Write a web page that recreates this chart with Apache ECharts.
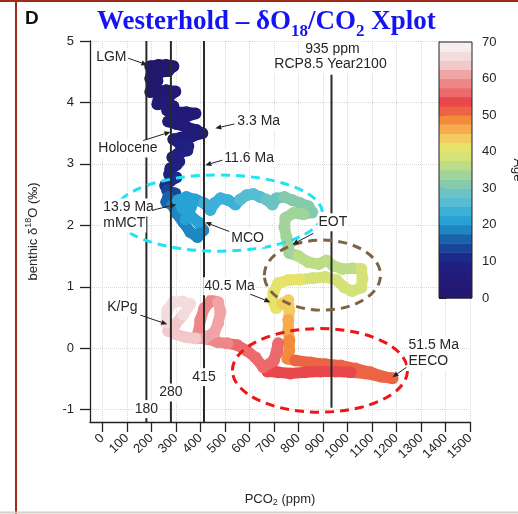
<!DOCTYPE html>
<html>
<head>
<meta charset="utf-8">
<script src="https://cdn.jsdelivr.net/npm/echarts@6/dist/echarts.min.js"></script>
<style>
html, body { margin: 0; padding: 0; background: #fff; }
#chart { width: 518px; height: 514px; }
</style>
</head>
<body>
<div id="chart"></div>
<script>
// Cenozoic trajectory: atmospheric CO2 (ppm), benthic d18O (permil), age (Ma)
const co2 = [
  196, 229, 261, 290, 269, 237, 204, 196, 225, 204, 196, 229, 261, 298, 269, 229, 225, 261, 290, 265,
  302, 343, 380, 339, 298, 269, 302, 343, 384, 408, 367, 322, 290, 314, 351, 347, 310, 286, 314, 302,
  278, 273, 302, 278, 257, 265, 298, 269, 261, 286, 302, 331, 359, 388, 412, 392, 359, 340, 362, 327,
  310, 343, 380, 416, 441, 457, 482, 514, 543, 563, 588, 616, 645, 669, 694, 710, 743, 776, 808, 841,
  857, 820, 780, 747, 743, 751, 759, 763, 800, 841, 882, 914, 943, 980, 1020, 1057, 1061, 1057, 1020, 988,
  955, 910, 857, 808, 759, 718, 698, 694, 710, 735, 759, 763, 759, 759, 763, 763, 755, 788, 849, 910,
  972, 1033, 1094, 1143, 1184, 1135, 1074, 1012, 951, 890, 829, 767, 718, 674, 694, 714, 718, 700, 657, 625,
  590, 551, 510, 469, 430, 392, 400, 416, 445, 473, 482, 473, 457, 416, 380, 339, 298, 269, 298, 331,
  359, 327, 290, 265, 261
];
const d18o = [
  4.59, 4.61, 4.61, 4.59, 4.51, 4.49, 4.51, 4.39, 4.35, 4.26, 4.17, 4.18, 4.20, 4.18, 4.08, 4.04, 3.97, 3.97, 3.94, 3.87,
  3.84, 3.84, 3.82, 3.76, 3.73, 3.69, 3.65, 3.60, 3.55, 3.50, 3.45, 3.43, 3.40, 3.34, 3.29, 3.22, 3.17, 3.11, 3.04, 2.98,
  2.93, 2.83, 2.78, 2.72, 2.65, 2.57, 2.52, 2.46, 2.38, 2.33, 2.20, 2.05, 1.89, 1.81, 1.92, 2.05, 2.16, 2.10, 2.30, 2.28,
  2.41, 2.46, 2.42, 2.36, 2.25, 2.36, 2.44, 2.41, 2.34, 2.42, 2.49, 2.51, 2.46, 2.42, 2.34, 2.44, 2.46, 2.41, 2.36, 2.31,
  2.21, 2.18, 2.20, 2.12, 1.97, 1.81, 1.66, 1.55, 1.50, 1.40, 1.37, 1.43, 1.34, 1.29, 1.30, 1.29, 1.14, 0.99, 0.93, 0.99,
  1.11, 1.16, 1.14, 1.12, 1.11, 1.06, 0.91, 0.78, 0.65, 0.73, 0.78, 0.62, 0.46, 0.29, 0.13, -0.03, -0.17, -0.20, -0.23, -0.26,
  -0.28, -0.33, -0.39, -0.46, -0.49, -0.46, -0.41, -0.39, -0.38, -0.38, -0.39, -0.41, -0.39, -0.38, -0.23, -0.07, 0.08, -0.20, -0.31, -0.15,
  -0.04, 0.05, 0.08, 0.10, 0.15, 0.26, 0.46, 0.65, 0.78, 0.75, 0.59, 0.41, 0.26, 0.16, 0.16, 0.18, 0.23, 0.28, 0.39, 0.55,
  0.72, 0.76, 0.75, 0.62, 0.42
];
const ageMa = [
  0.0, 0.2, 0.4, 0.6, 0.8, 1.0, 1.2, 1.4, 1.6, 1.8, 2.0, 2.2, 2.4, 2.6, 2.8, 3.0, 3.2, 3.4, 3.6, 3.8,
  4.0, 4.3, 4.6, 4.9, 5.2, 5.5, 5.8, 6.1, 6.4, 6.7, 7.0, 7.2, 7.4, 7.6, 7.8, 8.0, 8.3, 8.6, 8.9, 9.2,
  9.5, 9.8, 10.1, 10.5, 11.0, 12.5, 14.0, 15.5, 17.0, 17.8, 18.2, 18.6, 19.0, 19.4, 19.8, 20.2, 20.6, 20.7, 20.85, 21.0,
  21.4, 21.8, 22.2, 22.6, 23.0, 23.4, 23.8, 24.2, 24.7, 25.2, 25.7, 26.3, 27.0, 27.8, 28.6, 29.4, 30.2, 30.9, 31.5, 32.0,
  32.4, 32.8, 33.1, 33.4, 33.7, 34.0, 34.3, 34.6, 35.0, 35.4, 35.8, 36.2, 36.6, 37.0, 37.4, 37.8, 38.1, 38.4, 38.7, 39.0,
  39.3, 39.6, 39.9, 40.2, 40.4, 40.6, 40.8, 41.0, 41.5, 42.5, 43.5, 44.5, 45.5, 46.5, 47.5, 48.5, 49.5, 50.0, 50.3, 50.6,
  50.9, 51.1, 51.3, 51.5, 51.7, 52.0, 52.3, 52.6, 52.9, 53.2, 53.5, 53.8, 54.1, 54.4, 54.8, 55.2, 55.6, 56.0, 56.3, 56.6,
  56.9, 57.2, 57.5, 57.8, 58.1, 58.4, 58.9, 59.4, 59.9, 60.4, 60.9, 61.4, 61.9, 62.3, 62.8, 63.3, 63.8, 64.2, 64.6, 65.0,
  65.3, 65.6, 65.8, 65.9, 66.0
];

// axis ticks
const xTicks = [0, 100, 200, 300, 400, 500, 600, 700, 800, 900, 1000, 1100, 1200, 1300, 1400, 1500];
const yTicks = [-1, 0, 1, 2, 3, 4, 5];

// age colour scale (Ma): band edges and colours
const bandEdges = [0, 2.5, 5, 7.5, 10, 12.5, 15, 17.5, 20, 22.5, 25, 27.5, 30, 32.5, 35, 37.5, 40, 42.5, 45, 47.5, 50, 52.5, 55, 57.5, 60, 62.5, 65, 67.5, 70];
const bandColors = [
  '#22196e', '#221a74', '#211c7a', '#1f2080', '#1c2a8c', '#1a4498', '#1b62ac', '#1e86c2',
  '#28a2d4', '#3cb0d8', '#56bcd4', '#6cc2c4', '#86caac', '#a0d49a', '#bcdc88', '#d4e278',
  '#e6e26a', '#f2cc60', '#f6ac4c', '#f28c3c', '#ec6444', '#e8484c', '#ec6a6c', '#ee8888',
  '#f0a4a6', '#f2c8ca', '#f3dcdc', '#f7eded'
];

// reference CO2 levels (ppm) with vertical extent in d18O
const refCO2 = [180, 280, 415, 935];
const refTop = [5, 5, 5, 4.45];
const refBottom = [-1.2, -1.2, -1.2, -0.97];

function ageColor(a) {
  for (let i = 0; i < bandColors.length; i++) {
    if (a < bandEdges[i + 1]) return bandColors[i];
  }
  return bandColors[bandColors.length - 1];
}

const FONT = '"Liberation Sans", Arial, Helvetica, sans-serif';
const INK = '#262626';

const chart = echarts.init(document.getElementById('chart'), null, { renderer: 'canvas' });

chart.setOption({
  backgroundColor: '#fff',
  animation: false,
  title: {
    text: '{m|Westerhold – δO}{s|18}{m|/CO}{s|2}{m| Xplot}',
    left: 97,
    top: 4,
    padding: 0,
    textStyle: {
      rich: {
        m: { fontFamily: '"Liberation Serif", "Times New Roman", serif', fontWeight: 'bold', fontSize: 27, color: '#1414f2', lineHeight: 36 },
        s: { fontFamily: '"Liberation Serif", "Times New Roman", serif', fontWeight: 'bold', fontSize: 17, color: '#1414f2', lineHeight: 17, verticalAlign: 'bottom' }
      }
    }
  },
  grid: [
    { left: 90, top: 41, width: 380, height: 381, outerBoundsMode: 'none' },
    { left: 439, top: 42, width: 33, height: 256, outerBoundsMode: 'none' }
  ],
  xAxis: [
    {
      gridIndex: 0, type: 'value', min: -50, max: 1500,
      name: '{a|PCO}{b|2}{a| (ppm)}',
      nameLocation: 'middle', nameGap: 69,
      nameTextStyle: {
        rich: {
          a: { fontFamily: FONT, fontSize: 13, color: INK, lineHeight: 16 },
          b: { fontFamily: FONT, fontSize: 9, color: INK, lineHeight: 11, verticalAlign: 'bottom' }
        }
      },
      axisLine: { onZero: false, lineStyle: { color: '#222', width: 1.3 } },
      axisTick: { customValues: xTicks, length: 10, lineStyle: { color: '#222', width: 1.3 } },
      axisLabel: { customValues: xTicks, rotate: 45, margin: 14, fontFamily: FONT, fontSize: 13, color: INK, formatter: v => String(v) },
      splitLine: { show: true, lineStyle: { color: '#d8d8d8', type: 'dotted', width: 1 } }
    },
    { gridIndex: 1, type: 'value', min: 0, max: 1, show: false }
  ],
  yAxis: [
    {
      gridIndex: 0, type: 'value', min: -1.2, max: 5,
      name: '{a|benthic δ}{s|18}{a|O (‰)}',
      nameLocation: 'middle', nameGap: 48, nameRotate: 90,
      nameTextStyle: {
        rich: {
          a: { fontFamily: FONT, fontSize: 13, color: INK, lineHeight: 18 },
          s: { fontFamily: FONT, fontSize: 9, color: INK, lineHeight: 10, verticalAlign: 'top' }
        }
      },
      axisLine: { onZero: false, lineStyle: { color: '#222', width: 1.3 } },
      axisTick: { customValues: yTicks, length: 10, lineStyle: { color: '#222', width: 1.3 } },
      axisLabel: { customValues: yTicks, margin: 16, fontFamily: FONT, fontSize: 13, color: INK },
      splitLine: { show: true, lineStyle: { color: '#d8d8d8', type: 'dotted', width: 1 } }
    },
    {
      gridIndex: 1, type: 'value', min: 0, max: 70, interval: 10, position: 'right',
      name: 'Age', nameLocation: 'middle', nameGap: 39, nameRotate: -90,
      nameMoveOverlap: false,
      nameTextStyle: { fontFamily: FONT, fontSize: 13, color: INK },
      axisLine: { show: true, lineStyle: { color: '#222', width: 1 } },
      axisTick: { show: true, length: 7, lineStyle: { color: '#222', width: 1 } },
      axisLabel: { margin: 10, fontFamily: FONT, fontSize: 13, color: INK },
      splitLine: { show: false }
    }
  ],
  series: [
    {
      // thick age-coloured trajectory
      type: 'custom',
      xAxisIndex: 0, yAxisIndex: 0,
      z: 2,
      encode: { x: 0, y: 1 },
      data: co2.map((x, i) => [x, d18o[i], ageMa[i]]),
      renderItem: function (params, api) {
        const i = params.dataIndex;
        const p = api.coord([co2[i], d18o[i]]);
        const c = ageColor(ageMa[i]);
        const children = [];
        if (i < co2.length - 1) {
          const q = api.coord([co2[i + 1], d18o[i + 1]]);
          children.push({
            type: 'line',
            shape: { x1: p[0], y1: p[1], x2: q[0], y2: q[1] },
            style: { stroke: c, lineWidth: 11, lineCap: 'round' }
          });
        }
        children.push({ type: 'circle', shape: { cx: p[0], cy: p[1], r: 6 }, style: { fill: c } });
        return { type: 'group', children: children };
      }
    },
    {
      // reference CO2 levels
      type: 'custom',
      xAxisIndex: 0, yAxisIndex: 0,
      z: 3,
      encode: { x: 0, y: [1, 2] },
      data: refCO2.map((x, i) => [x, refTop[i], refBottom[i]]),
      renderItem: function (params, api) {
        const a = api.coord([api.value(0), api.value(1)]);
        const b = api.coord([api.value(0), api.value(2)]);
        return {
          type: 'line',
          shape: { x1: a[0], y1: a[1], x2: b[0], y2: b[1] },
          style: { stroke: '#2a2a2a', lineWidth: 2 }
        };
      }
    },
    {
      // colour bar bands
      type: 'custom',
      xAxisIndex: 1, yAxisIndex: 1,
      encode: { x: 0, y: [1, 2] },
      data: bandColors.map((c, i) => [0, bandEdges[i], bandEdges[i + 1]]),
      renderItem: function (params, api) {
        const a = api.coord([0, api.value(2)]);
        const b = api.coord([1, api.value(1)]);
        return {
          type: 'rect',
          shape: { x: a[0], y: a[1], width: b[0] - a[0], height: b[1] - a[1] + 0.5 },
          style: { fill: bandColors[params.dataIndex] }
        };
      }
    },
    {
      // colour bar frame
      type: 'custom',
      xAxisIndex: 1, yAxisIndex: 1,
      z: 4,
      encode: { x: 0, y: [1, 2] },
      data: [[0, bandEdges[0], bandEdges[bandEdges.length - 1]]],
      renderItem: function (params, api) {
        const a = api.coord([0, api.value(2)]);
        const b = api.coord([1, api.value(1)]);
        return {
          type: 'rect',
          shape: { x: a[0], y: a[1], width: b[0] - a[0], height: b[1] - a[1] },
          style: { fill: null, stroke: '#222', lineWidth: 1 }
        };
      }
    }
  ]
});

// annotations, placed in data coordinates
const notes = [
  { t: 'LGM', x: -29, y: 4.74, from: [106, 4.72], to: [184, 4.61] },
  { t: 'Holocene', x: -20, y: 3.25, from: [167, 3.38], to: [278, 3.52] },
  { t: '3.3 Ma', x: 547, y: 3.69, from: [539, 3.65], to: [461, 3.58] },
  { t: '11.6 Ma', x: 494, y: 3.09, from: [490, 3.06], to: [420, 2.98] },
  { t: '13.9 Ma', x: 0, y: 2.29, from: [208, 2.25], to: [302, 2.34] },
  { t: 'mMCT', x: 0, y: 2.03 },
  { t: 'MCO', x: 522, y: 1.79, from: [518, 1.90], to: [420, 2.05] },
  { t: 'EOT', x: 878, y: 2.05, from: [861, 1.87], to: [776, 1.69] },
  { t: '40.5 Ma', x: 412, y: 1.01, from: [604, 0.88], to: [686, 0.75] },
  { t: 'K/Pg', x: 16, y: 0.67, from: [155, 0.54], to: [265, 0.39] },
  { t: '51.5 Ma', x: 1245, y: 0.05, from: [1241, -0.31], to: [1184, -0.47] },
  { t: 'EECO', x: 1245, y: -0.21 }
];
const centred = [
  { t: '935 ppm', x: 939, y: 4.87 },
  { t: 'RCP8.5 Year2100', x: 931, y: 4.62 },
  { t: '180', x: 180, y: -0.99 },
  { t: '280', x: 280, y: -0.72 },
  { t: '415', x: 415, y: -0.47 }
];
const rings = [
  { cx: 474, cy: 2.20, rx: 424, ry: 0.62, color: '#1fe3f2' },
  { cx: 898, cy: 1.19, rx: 237, ry: 0.57, color: '#7d6343' },
  { cx: 888, cy: -0.36, rx: 357, ry: 0.68, color: '#f01414' }
];

const toPx = (x, y) => chart.convertToPixel({ gridIndex: 0 }, [x, y]);
const g = [];

rings.forEach(r => {
  const c = toPx(r.cx, r.cy);
  const e = toPx(r.cx + r.rx, r.cy + r.ry);
  g.push({
    type: 'ellipse', z: 50,
    shape: { cx: c[0], cy: c[1], rx: Math.abs(e[0] - c[0]), ry: Math.abs(e[1] - c[1]) },
    style: { fill: null, stroke: r.color, lineWidth: 3, lineDash: [9, 6] }
  });
});

notes.forEach(n => {
  const p = toPx(n.x, n.y);
  g.push({
    type: 'text', z: 60, x: p[0], y: p[1],
    style: { text: n.t, font: '14px ' + FONT, fill: INK, align: 'left', verticalAlign: 'middle', backgroundColor: '#fff', padding: [2, 1] }
  });
  if (n.from) {
    const a = toPx(n.from[0], n.from[1]);
    const b = toPx(n.to[0], n.to[1]);
    const dx = b[0] - a[0], dy = b[1] - a[1];
    const L = Math.hypot(dx, dy), ux = dx / L, uy = dy / L;
    const hl = 6, hw = 2.6;
    const bx = b[0] - ux * hl, by = b[1] - uy * hl;
    g.push({ type: 'line', z: 61, shape: { x1: a[0], y1: a[1], x2: bx, y2: by }, style: { stroke: '#222', lineWidth: 1 } });
    g.push({
      type: 'polygon', z: 61,
      shape: { points: [[b[0], b[1]], [bx - uy * hw, by + ux * hw], [bx + uy * hw, by - ux * hw]] },
      style: { fill: '#222' }
    });
  }
});

centred.forEach(n => {
  const p = toPx(n.x, n.y);
  g.push({
    type: 'text', z: 60, x: p[0], y: p[1],
    style: { text: n.t, font: '14px ' + FONT, fill: INK, align: 'center', verticalAlign: 'middle', backgroundColor: '#fff', padding: [2, 1] }
  });
});

// panel letter and page frame
g.push({ type: 'text', z: 60, x: 25, y: 19, style: { text: 'D', font: 'bold 19px ' + FONT, fill: '#111', align: 'left', verticalAlign: 'middle' } });
g.push({ type: 'line', z: 70, shape: { x1: 16, y1: 0, x2: 16, y2: 514 }, style: { stroke: '#9c2c1a', lineWidth: 2 } });
g.push({ type: 'line', z: 70, shape: { x1: 0, y1: 1, x2: 518, y2: 1 }, style: { stroke: '#9c2c1a', lineWidth: 2 } });
g.push({ type: 'line', z: 70, shape: { x1: 0, y1: 512.5, x2: 518, y2: 512.5 }, style: { stroke: '#d6cfc8', lineWidth: 2 } });

chart.setOption({ graphic: g });
</script>
</body>
</html>
